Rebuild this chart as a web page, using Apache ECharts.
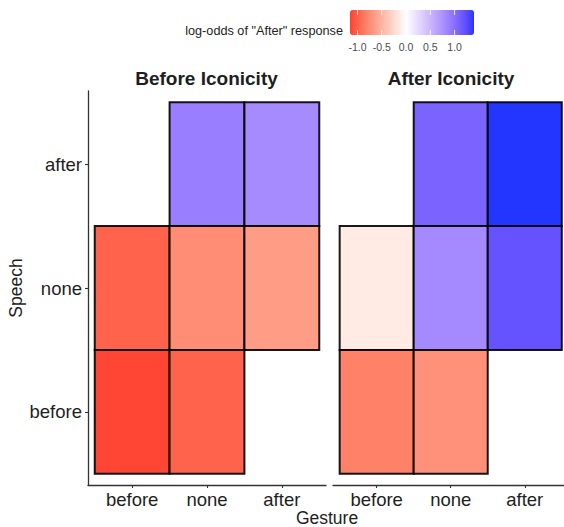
<!DOCTYPE html>
<html><head><meta charset="utf-8">
<script src="https://cdn.jsdelivr.net/npm/echarts@6/dist/echarts.min.js"></script>
<style>html,body{margin:0;padding:0;background:#fff}#c{width:564px;height:527px}</style>
</head><body><div id="c"></div><script>
// ---- data ----
const gestureCats = ['before', 'none', 'after'];
const speechCats = ['before', 'none', 'after'];
const panelTitles = ['Before Iconicity', 'After Iconicity'];
// [gesture, speech, log-odds]
const beforeIconicity = [
  ['none', 'after', 0.89], ['after', 'after', 0.79],
  ['before', 'none', -0.99], ['none', 'none', -0.75], ['after', 'none', -0.65],
  ['before', 'before', -1.13], ['none', 'before', -0.99]
];
const afterIconicity = [
  ['none', 'after', 1.08], ['after', 'after', 1.40],
  ['before', 'none', -0.14], ['none', 'none', 0.80], ['after', 'none', 1.19],
  ['before', 'before', -0.82], ['none', 'before', -0.72]
];
const legendTicks = [-1.0, -0.5, 0.0, 0.5, 1.0];
const legendTitle = 'log-odds of "After" response';
const xTitle = 'Gesture';
const yTitle = 'Speech';
const scaleMin = -1.155, scaleMax = 1.40;

// ---- colour scale (Lab interpolation like ggplot gradient2) ----
const LOW = '#ff3f2f', MID = '#ffffff', HIGH = '#2236ff';
function s2l(c){c/=255;return c<=0.04045?c/12.92:Math.pow((c+0.055)/1.055,2.4);}
function l2s(c){c=c<=0.0031308?12.92*c:1.055*Math.pow(c,1/2.4)-0.055;return Math.round(Math.max(0,Math.min(1,c))*255);}
function hex2lab(h){
  const r=s2l(parseInt(h.substr(1,2),16)),g=s2l(parseInt(h.substr(3,2),16)),b=s2l(parseInt(h.substr(5,2),16));
  const X=(0.4124*r+0.3576*g+0.1805*b)/0.95047,Y=0.2126*r+0.7152*g+0.0722*b,Z=(0.0193*r+0.1192*g+0.9505*b)/1.08883;
  const f=t=>t>0.008856?Math.cbrt(t):7.787*t+16/116;
  const fx=f(X),fy=f(Y),fz=f(Z);
  return [116*fy-16,500*(fx-fy),200*(fy-fz)];
}
function lab2hex(L,a,bb){
  const fy=(L+16)/116,fx=fy+a/500,fz=fy-bb/200;
  const fi=t=>t>0.206893?t*t*t:(t-16/116)/7.787;
  const X=fi(fx)*0.95047,Y=fi(fy),Z=fi(fz)*1.08883;
  const r=3.2406*X-1.5372*Y-0.4986*Z,g=-0.9689*X+1.8758*Y+0.0415*Z,b=0.0557*X-0.2040*Y+1.0570*Z;
  return '#'+[r,g,b].map(v=>l2s(v).toString(16).padStart(2,'0')).join('');
}
const labLow=hex2lab(LOW),labMid=hex2lab(MID),labHigh=hex2lab(HIGH);
function mixLab(A,B,t){return lab2hex(A[0]+(B[0]-A[0])*t,A[1]+(B[1]-A[1])*t,A[2]+(B[2]-A[2])*t);}
const NSTOP=160, stops=[];
for(let i=0;i<=NSTOP;i++){
  const v=scaleMin+(scaleMax-scaleMin)*i/NSTOP;
  stops.push(v<0?mixLab(labMid,labLow,v/scaleMin):mixLab(labMid,labHigh,v/scaleMax));
}

const toIdx = rows => rows.map(r => [gestureCats.indexOf(r[0]), speechCats.indexOf(r[1]), r[2]]);
const FONT = 'Liberation Sans, Arial, sans-serif';
const TXT = '#1e1e1e';
const PAD = 0.09;

const chart = echarts.init(document.getElementById('c'), null, {renderer: 'svg'});

// panel 2 runs off the right edge in the original; it is cut at the page edge
const gridL = [88, 333], gridW = [238, 231], xMax = [2.59, 2.53], gridTop = 91, gridH = 394;
const titleX = [206.5, 451];
const axisLine = {show: true, onZero: false, lineStyle: {color: '#333', width: 1.3}};

function xAx(i){
  return {type: 'value', gridIndex: i, min: -0.5 - PAD, max: xMax[i],
    axisLine, splitLine: {show: false},
    axisTick: {show: true, customValues: gestureCats.map((c, k) => k), length: 3, lineStyle: {color: '#333', width: 1.1}},
    axisLabel: {customValues: gestureCats.map((c, k) => k), formatter: v => gestureCats[Math.round(v)],
      fontSize: 18.5, color: TXT, fontFamily: FONT, margin: 5}};
}
function yAx(i){
  const show = i === 0;
  return {type: 'value', gridIndex: i, min: -0.5 - PAD, max: speechCats.length - 0.5 + PAD,
    axisLine: show ? axisLine : {show: false}, splitLine: {show: false},
    axisTick: {show: show, customValues: speechCats.map((c, k) => k), length: 3, lineStyle: {color: '#333', width: 1.1}},
    axisLabel: {show: show, customValues: speechCats.map((c, k) => k), formatter: v => speechCats[Math.round(v)],
      fontSize: 18.5, color: TXT, fontFamily: FONT, margin: 6},
    name: show ? yTitle : '', nameLocation: 'middle', nameGap: 63,
    nameTextStyle: {fontSize: 17.5, color: TXT, fontFamily: FONT}};
}

function renderCell(params, api){
  const x = api.value(0), y = api.value(1);
  const p0 = api.coord([x - 0.5, y + 0.5]);
  const p1 = api.coord([x + 0.5, y - 0.5]);
  return {type: 'rect', shape: {x: p0[0], y: p0[1], width: p1[0] - p0[0], height: p1[1] - p0[1]},
    style: {fill: api.visual('color'), stroke: 'rgba(0,0,0,0.9)', lineWidth: 2}};
}

const barX = 350, barY = 10, barLen = 124, barThick = 25;
const graphics = [];
panelTitles.forEach((t, i) => graphics.push({type: 'text', x: titleX[i], y: 78,
  style: {text: t, fill: TXT, font: 'bold 19px ' + FONT, textAlign: 'center', textVerticalAlign: 'middle'}}));
graphics.push({type: 'text', x: 327, y: 518, style: {text: xTitle, font: '17.5px ' + FONT, fill: TXT, textAlign: 'center', textVerticalAlign: 'middle'}});
graphics.push({type: 'text', x: 343, y: 31, style: {text: legendTitle, font: '12.7px ' + FONT, fill: TXT, textAlign: 'right', textVerticalAlign: 'middle'}});
legendTicks.forEach(v => {
  const x = barX + (v - scaleMin) / (scaleMax - scaleMin) * barLen;
  graphics.push({type: 'text', x: x, y: 47, style: {text: v.toFixed(1), font: '10.5px ' + FONT, fill: '#4d4d4d', textAlign: 'center', textVerticalAlign: 'middle'}});
  graphics.push({type: 'line', shape: {x1: x, y1: barY, x2: x, y2: barY + 5}, style: {stroke: 'rgba(255,255,255,0.8)', lineWidth: 1}, z: 100});
  graphics.push({type: 'line', shape: {x1: x, y1: barY + barThick - 5, x2: x, y2: barY + barThick}, style: {stroke: 'rgba(255,255,255,0.8)', lineWidth: 1}, z: 100});
});

chart.setOption({
  backgroundColor: '#fff',
  animation: false,
  textStyle: {fontFamily: FONT},
  grid: gridL.map((l, i) => ({left: l, top: gridTop, width: gridW[i], height: gridH, containLabel: false})),
  xAxis: [xAx(0), xAx(1)],
  yAxis: [yAx(0), yAx(1)],
  visualMap: {type: 'continuous', min: scaleMin, max: scaleMax, dimension: 2, seriesIndex: [0, 1],
    orient: 'horizontal', left: barX, top: barY, itemWidth: barThick, itemHeight: barLen,
    calculable: false, realtime: false, padding: 0, text: null, showLabel: false,
    inRange: {color: stops}},
  graphic: graphics,
  series: [
    {type: 'custom', xAxisIndex: 0, yAxisIndex: 0, encode: {x: 0, y: 1}, data: toIdx(beforeIconicity), renderItem: renderCell, clip: false},
    {type: 'custom', xAxisIndex: 1, yAxisIndex: 1, encode: {x: 0, y: 1}, data: toIdx(afterIconicity), renderItem: renderCell, clip: false}
  ]
});
</script></body></html>
